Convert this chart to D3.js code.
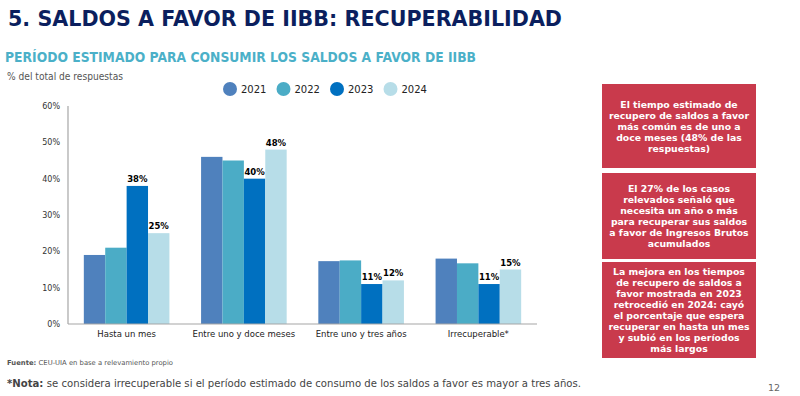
<!DOCTYPE html>
<html>
<head>
<meta charset="utf-8">
<script src="https://cdn.jsdelivr.net/npm/d3@7"></script>
<style>
  body { margin: 0; background: #fff; }
  svg { font-family: "DejaVu Sans", Verdana, sans-serif; }
  .tick-label { font-size: 8px; fill: #333; }
  .cat-label { font-size: 8.5px; fill: #222; }
  .value-label { font-size: 8.5px; font-weight: bold; fill: #000; }
  .box-text { font-size: 9.3px; font-weight: bold; fill: #fff; }
</style>
</head>
<body>
<div id="chart"></div>
<script>
// data
const categories = ["Hasta un mes", "Entre uno y doce meses", "Entre uno y tres años", "Irrecuperable*"]
const years = ["2021", "2022", "2023", "2024"]
const values2021 = [19, 46, 17.3, 18]
const values2022 = [21, 45, 17.5, 16.7]
const values2023 = [38, 40, 11, 11]
const values2024 = [25, 48, 12, 15]
const labeledYears = ["2023", "2024"]
const yTicks = [0, 10, 20, 30, 40, 50, 60]
const colors = ["#4f81bd", "#4bacc6", "#0070c0", "#b7dde8"]

const boxTexts = [
  ["El tiempo estimado de", "recupero de saldos a favor", "más común es de uno a", "doce meses (48% de las", "respuestas)"],
  ["El 27% de los casos", "relevados señaló que", "necesita un año o más", "para recuperar sus saldos", "a favor de Ingresos Brutos", "acumulados"],
  ["La mejora en los tiempos", "de recupero de saldos a", "favor mostrada en 2023", "retrocedió en 2024: cayó", "el porcentaje que espera", "recuperar en hasta un mes", "y subió en los períodos", "más largos"],
]

const series = years.map((y, i) => ({
  year: y,
  color: colors[i],
  values: [values2021, values2022, values2023, values2024][i],
}))

let dimensions = {
  width: 800,
  height: 396,
  margin: { top: 106, right: 263, bottom: 72, left: 68 },
}
dimensions.boundedWidth = dimensions.width - dimensions.margin.left - dimensions.margin.right
dimensions.boundedHeight = dimensions.height - dimensions.margin.top - dimensions.margin.bottom

const wrapper = d3.select("#chart").append("svg")
    .attr("width", dimensions.width)
    .attr("height", dimensions.height)

// headings
wrapper.append("text")
    .attr("x", 8).attr("y", 26)
    .attr("textLength", 554).attr("lengthAdjust", "spacingAndGlyphs")
    .style("font-size", "21px").style("font-weight", "bold").style("fill", "#0b1f5e")
    .text("5. SALDOS A FAVOR DE IIBB: RECUPERABILIDAD")

wrapper.append("text")
    .attr("x", 5).attr("y", 62)
    .attr("textLength", 471).attr("lengthAdjust", "spacingAndGlyphs")
    .style("font-size", "14.5px").style("font-weight", "bold").style("fill", "#4bb0c8")
    .text("PERÍODO ESTIMADO PARA CONSUMIR LOS SALDOS A FAVOR DE IIBB")

wrapper.append("text")
    .attr("x", 7).attr("y", 80)
    .attr("textLength", 116).attr("lengthAdjust", "spacingAndGlyphs")
    .style("font-size", "10.5px").style("fill", "#555")
    .text("% del total de respuestas")

// legend
const legend = wrapper.append("g")
  .selectAll("g")
  .data(series)
  .join("g")
    .attr("transform", (d, i) => `translate(${230 + i * 53.5}, 89)`)

legend.append("circle")
    .attr("r", 7)
    .attr("fill", d => d.color)

legend.append("text")
    .attr("x", 11).attr("y", 4)
    .style("font-size", "10px").style("fill", "#222")
    .text(d => d.year)

// chart
const bounds = wrapper.append("g")
    .attr("transform", `translate(${dimensions.margin.left}, ${dimensions.margin.top})`)

const xScale = d3.scaleBand()
    .domain(categories)
    .range([0, dimensions.boundedWidth])
    .paddingInner(0.27)
    .paddingOuter(0.135)

const xInner = d3.scaleBand()
    .domain(years)
    .range([0, xScale.bandwidth()])

const yScale = d3.scaleLinear()
    .domain([0, 60])
    .range([dimensions.boundedHeight, 0])

const groups = bounds.selectAll(".series")
  .data(series)
  .join("g")
    .attr("class", "series")
    .attr("fill", d => d.color)

groups.selectAll("rect")
  .data(d => d.values.map((v, i) => ({ cat: categories[i], value: v, year: d.year })))
  .join("rect")
    .attr("x", d => xScale(d.cat) + xInner(d.year))
    .attr("y", d => yScale(d.value))
    .attr("width", xInner.bandwidth())
    .attr("height", d => dimensions.boundedHeight - yScale(d.value))

groups.filter(d => labeledYears.includes(d.year))
  .selectAll("text")
  .data(d => d.values.map((v, i) => ({ cat: categories[i], value: v, year: d.year })))
  .join("text")
    .attr("class", "value-label")
    .attr("x", d => xScale(d.cat) + xInner(d.year) + xInner.bandwidth() / 2)
    .attr("y", d => yScale(d.value) - 4)
    .attr("text-anchor", "middle")
    .text(d => `${Math.round(d.value)}%`)

// axes
const yAxis = bounds.append("g")
yAxis.append("line")
    .attr("y1", 0).attr("y2", dimensions.boundedHeight)
    .attr("stroke", "#a6a6a6").attr("stroke-width", 1.2)
yAxis.selectAll("text")
  .data(yTicks)
  .join("text")
    .attr("class", "tick-label")
    .attr("x", -8)
    .attr("y", d => yScale(d) + 3)
    .attr("text-anchor", "end")
    .text(d => `${d}%`)

const xAxis = bounds.append("g")
    .attr("transform", `translate(0, ${dimensions.boundedHeight})`)
xAxis.append("line")
    .attr("x1", 0).attr("x2", dimensions.boundedWidth)
    .attr("stroke", "#a6a6a6").attr("stroke-width", 1.2)
xAxis.selectAll("text")
  .data(categories)
  .join("text")
    .attr("class", "cat-label")
    .attr("x", d => xScale(d) + xScale.bandwidth() / 2)
    .attr("y", 13)
    .attr("text-anchor", "middle")
    .text(d => d)

// side boxes
const boxTops = [84, 173, 262]
const boxBottoms = [168, 259, 358]
const boxes = wrapper.append("g")
  .selectAll("g")
  .data(boxTexts)
  .join("g")

boxes.append("rect")
    .attr("x", 602)
    .attr("y", (d, i) => boxTops[i])
    .attr("width", 154)
    .attr("height", (d, i) => boxBottoms[i] - boxTops[i])
    .attr("fill", "#c93a4c")

boxes.each(function(lines, i) {
  const lineH = 11
  const mid = (boxTops[i] + boxBottoms[i]) / 2
  const start = mid - (lines.length - 1) * lineH / 2 + 3.5
  d3.select(this).selectAll("text")
    .data(lines)
    .join("text")
      .attr("class", "box-text")
      .attr("x", 679)
      .attr("y", (d, j) => start + j * lineH)
      .attr("text-anchor", "middle")
      .text(d => d)
})

// footer
const fuente = wrapper.append("text")
    .attr("x", 7).attr("y", 365)
    .attr("textLength", 166).attr("lengthAdjust", "spacingAndGlyphs")
    .style("font-size", "6.8px").style("fill", "#555")
fuente.append("tspan").style("font-weight", "bold").text("Fuente: ")
fuente.append("tspan").text("CEU-UIA en base a relevamiento propio")

const nota = wrapper.append("text")
    .attr("x", 7).attr("y", 387)
    .attr("textLength", 574).attr("lengthAdjust", "spacingAndGlyphs")
    .style("font-size", "11px").style("fill", "#444")
nota.append("tspan").style("font-weight", "bold").text("*Nota: ")
nota.append("tspan").text("se considera irrecuperable si el período estimado de consumo de los saldos a favor es mayor a tres años.")

wrapper.append("text")
    .attr("x", 780).attr("y", 391)
    .attr("text-anchor", "end")
    .style("font-size", "9.5px").style("fill", "#666")
    .text("12")
</script>
</body>
</html>
